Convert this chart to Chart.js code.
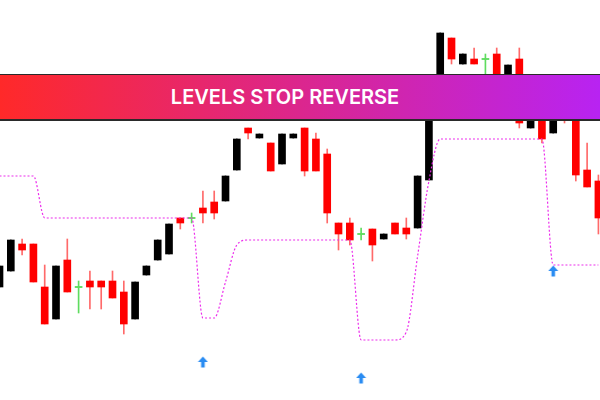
<!DOCTYPE html>
<html>
<head>
<meta charset="utf-8">
<script src="https://cdn.jsdelivr.net/npm/chart.js@4.4.0/dist/chart.umd.min.js"></script>
<style>
  body { margin: 0; background: #fff; }
  #wrap { position: relative; width: 600px; height: 400px; overflow: hidden; }
  #banner {
    position: absolute; left: 0; top: 74px; width: 600px; height: 47px;
    box-sizing: border-box;
    border-top: 1px solid #2a2a2a; border-bottom: 2px solid #2a2a2a;
    background: linear-gradient(to right, #ff2929, #b823f2);
    color: #fff; font: 600 20px Inter, sans-serif;
    display: flex; align-items: center; justify-content: center;
    padding-right: 30px;
  }
</style>
</head>
<body>
<div id="wrap">
  <canvas id="chart" width="600" height="400"></canvas>
  <div id="banner">LEVELS STOP REVERSE</div>
</div>
<script>
// price levels (axis is drawn reversed, top = high)
const open  = [287,271,244,244,287,319,260,287,281,281,281,292,319,275,260,254,218,218,208,202,201,170,128,138,143,164,138,128,139,154,223,223,234,229,239,223,228,228,180,100,38,64,59,59,54,88,59,128,100,133,104,110,170,181];
const close = [266,240,250,282,324,266,292,287,287,287,298,324,282,266,240,224,223,218,213,213,176,139,133,134,171,134,134,171,171,213,234,240,234,245,234,234,234,176,100,33,59,54,64,59,88,65,123,100,139,106,114,175,187,218];
const high  = [266,240,239,244,265,266,239,281,271,281,271,281,282,266,240,224,218,213,191,191,176,139,128,134,143,134,134,128,133,149,223,218,228,229,234,223,218,176,100,33,38,54,48,54,48,65,48,100,95,106,98,105,143,175];
const low   = [287,271,255,282,324,319,292,313,309,309,298,334,319,275,260,254,229,223,223,219,201,170,139,138,171,164,138,176,171,223,250,245,240,261,239,234,239,228,180,100,64,64,64,80,92,88,128,128,143,133,123,181,187,234];

// stop-and-reverse level line, one value per candle
const stopLevel = [176,176,176,176,218,218,218,218,218,218,218,218,218,218,218,218,218,218,318,318,282,245,240,240,240,240,240,240,240,240,240,240,340,340,340,340,332,256,181,139,139,139,139,139,139,139,139,139,139,265,265,265,265,265];

// reversal arrows
const arrowIdx = [18, 32, 49];
const arrowLevel = [362, 378, 271];

const RED = '#ff0000', BLACK = '#000000', DOJI = '#5fdc5f';
const kind = open.map((o, i) => o === close[i] ? 'doji' : (close[i] < o ? 'up' : 'down'));
const bodyColor = kind.map(k => k === 'doji' ? DOJI : (k === 'up' ? BLACK : RED));
const wickColor = kind.map(k => k === 'doji' ? DOJI : (k === 'up' ? BLACK : '#ff6a6a'));

function arrowImage() {
  const c = document.createElement('canvas');
  c.width = 11; c.height = 12;
  const g = c.getContext('2d');
  g.fillStyle = '#2a8cf2';
  g.beginPath();
  g.moveTo(5.5, 0.5);
  g.lineTo(10.5, 6);
  g.lineTo(7.3, 6);
  g.lineTo(7.3, 11.5);
  g.lineTo(3.7, 11.5);
  g.lineTo(3.7, 6);
  g.lineTo(0.5, 6);
  g.closePath();
  g.fill();
  return c;
}

new Chart(document.getElementById('chart').getContext('2d'), {
  data: {
    datasets: [
      {
        type: 'line',
        order: 0,
        data: arrowIdx.map((x, i) => ({ x, y: arrowLevel[i] })),
        showLine: false,
        pointStyle: arrowImage(),
        pointRadius: 6
      },
      {
        type: 'line',
        order: 1,
        data: stopLevel.map((y, x) => ({ x, y })),
        borderColor: '#ec2cec',
        borderWidth: 1.2,
        borderDash: [2, 2],
        pointRadius: 0,
        cubicInterpolationMode: 'monotone'
      },
      {
        type: 'bar',
        order: 2,
        grouped: false,
        data: open.map((o, x) => ({ x, y: o === close[x] ? [o - 0.6, o + 0.6] : [o, close[x]] })),
        backgroundColor: bodyColor,
        borderWidth: 0,
        barThickness: 7,
        maxBarThickness: 7
      },
      {
        type: 'bar',
        order: 3,
        grouped: false,
        data: high.map((h, x) => ({ x, y: [h, low[x]] })),
        backgroundColor: wickColor,
        borderWidth: 0,
        barThickness: 1,
        maxBarThickness: 1
      }
    ]
  },
  options: {
    responsive: false,
    animation: false,
    events: [],
    layout: { padding: 0, autoPadding: false },
    plugins: { legend: { display: false }, tooltip: { enabled: false } },
    scales: {
      x: { type: 'linear', min: 0.044, max: 53.14, offset: false, display: false },
      y: { min: 0, max: 400, reverse: true, display: false }
    }
  }
});
</script>
</body>
</html>
